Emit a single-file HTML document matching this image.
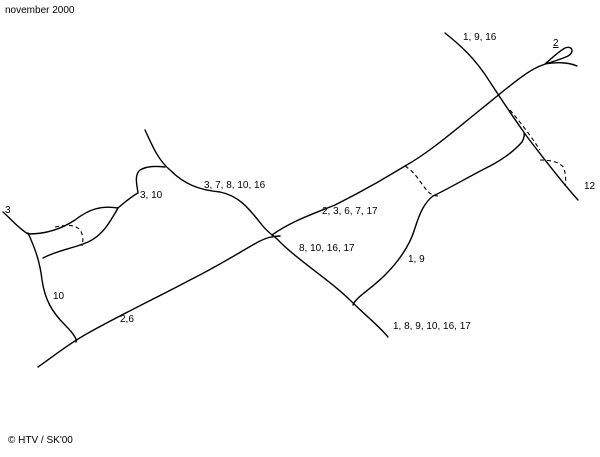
<!DOCTYPE html>
<html><head><style>
html,body{margin:0;padding:0;background:#fff;width:600px;height:457px;overflow:hidden}
svg{display:block}
text{font-family:"Liberation Sans",Arial,sans-serif;font-size:10px;fill:#000}
</style></head><body>
<svg width="600" height="457" viewBox="0 0 600 457" xmlns="http://www.w3.org/2000/svg">
<g fill="none" stroke="#000" stroke-width="1.4" stroke-linecap="round">
<path d="M145,130 C152,145 158,160 170,170 C185,185 200,190 220,192 C240,196 250,210 262,225 C270,235 275,236 280,242 C300,262 330,280 352,302 C365,315 378,325 388,337"/>
<path d="M272,235 C290,222 310,215 335,205 C365,190 385,178 405,166 C430,152 455,130 480,110 C505,90 525,72 540,66 C550,62 560,60 568,56 C575,52 572,45 565,48 C558,52 552,58 545,64 C555,62 568,62 577,66"/>
<path d="M38,367 C55,355 70,343 90,332 C130,310 160,296 190,280 C220,265 240,252 258,242 C266,238 272,236 280,236"/>
<path d="M445,33 C460,45 475,58 490,82 C505,105 515,120 528,138 C545,160 560,180 578,200"/>
<path d="M433,196 C450,188 470,176 490,166 C505,158 515,150 522,142 C525,136 524,134 524,134"/>
<path d="M433,196 C425,202 420,212 415,228 C410,245 400,260 385,275 C370,290 356,297 353,305"/>
<path d="M3,212 C12,220 18,228 28,234 C45,234 60,230 75,220 C88,210 100,205 118,208 C125,202 132,196 138,193 C137,185 134,175 140,170 C147,166 155,166 165,167"/>
<path d="M118,208 C110,222 103,235 88,242 C75,248 58,250 43,258"/>
<path d="M28,233 C35,248 40,262 42,280 C45,300 52,312 65,325 C75,335 77,340 76,342"/>
</g>
<g fill="none" stroke="#000" stroke-width="1.1" stroke-dasharray="4,3">
<path d="M405,166 C415,172 420,182 425,188 C430,195 435,196 438,196"/>
<path d="M510,110 C520,122 528,132 540,150"/>
<path d="M540,160 C550,160 560,162 564,168 C566,176 566,182 565,186"/>
<path d="M55,227 C65,225 75,224 80,230 C84,236 83,242 82,246"/>
</g>
<text x="5" y="13">november 2000</text>
<text x="463" y="40">1, 9, 16</text>
<text x="553" y="46" text-decoration="underline">2</text>
<text x="584" y="189">12</text>
<text x="5" y="213">3</text>
<text x="140" y="198">3, 10</text>
<text x="204" y="188">3, 7, 8, 10, 16</text>
<text x="322" y="214">2, 3, 6, 7, 17</text>
<text x="299" y="251">8, 10, 16, 17</text>
<text x="408" y="262">1, 9</text>
<text x="53" y="299">10</text>
<text x="120" y="322">2,6</text>
<text x="393" y="329">1, 8, 9, 10, 16, 17</text>
<text x="8" y="443">© HTV / SK'00</text>
</svg>
</body></html>
